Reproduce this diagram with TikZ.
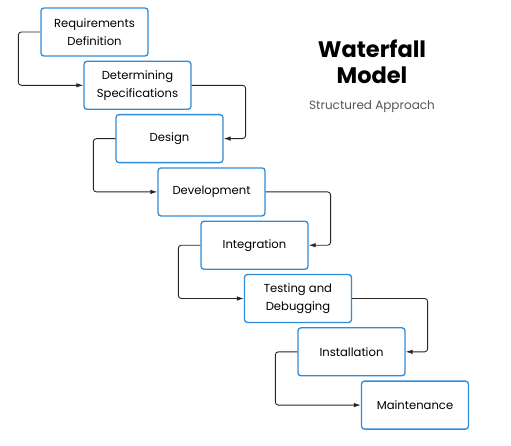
\documentclass[tikz,border=0pt]{standalone}
\usepackage{fontspec}
\setmainfont{Poppins}
\usepackage{xcolor}
\usepackage{tikz}
\usetikzlibrary{arrows.meta, positioning}

\definecolor{boxblue}{HTML}{2F8CD8}
\definecolor{subgray}{HTML}{555555}

\begin{document}
\begin{tikzpicture}[x=1pt, y=1pt, node distance=53.3pt, auto]
        % Stijlen
        \tikzstyle{phase} = [rectangle, rounded corners=3pt, minimum width=107pt, minimum height=48pt, text centered, align=center, draw=boxblue, line width=1.3pt, fill=white, font=\fontsize{11.6}{18}\selectfont]
        \tikzstyle{arrow} = [line width=0.9pt, draw=black!85, rounded corners=3pt, -{Latex[length=7pt,width=4.5pt]}]
        \useasboundingbox (0,0) rectangle (511,-445);

        % Knopen plaatsen
        \node (req) [phase] at (94.5,-32) {Requirements\\Definition};
        \node (spec) [phase, below of=req, xshift=43pt] {Determining\\Specifications};
        \node (design) [phase, below of=spec, xshift=32pt] {Design};
        \node (dev) [phase, below of=design, xshift=42pt] {Development};
        \node (integ) [phase, below of=dev, xshift=43pt] {Integration};
        \node (test) [phase, below of=integ, xshift=43.5pt] {Testing and\\Debugging};
        \node (install) [phase, below of=test, xshift=53.5pt] {Installation};
        \node (maint) [phase, below of=install, xshift=63.5pt] {Maintenance};

        % Titel
        \node (title) at (372,-62) [align=center, font=\fontsize{22.5}{26}\selectfont\bfseries] {Waterfall\\Model};
        \node (subtitle) at (372,-106.5) [text=subgray, font=\fontsize{12}{14}\selectfont] {Structured Approach};

        % Pijlen tekenen
        \draw [arrow] (req.west) -- ++(-22pt,0) |- (spec.west);
        \draw [arrow] (spec.east) -| ([xshift=22pt]design.east) -- (design.east);
        \draw [arrow] (design.west) -- ++(-22pt,0) |- (dev.west);
        \draw [arrow] (dev.east) -| ([xshift=22pt]integ.east) -- (integ.east);
        \draw [arrow] (integ.west) -- ++(-22pt,0) |- (test.west);
        \draw [arrow] (test.east) -| ([xshift=22pt]install.east) -- (install.east);
        \draw [arrow] (install.west) -- ++(-22pt,0) |- (maint.west);
    \end{tikzpicture}
\end{document}
